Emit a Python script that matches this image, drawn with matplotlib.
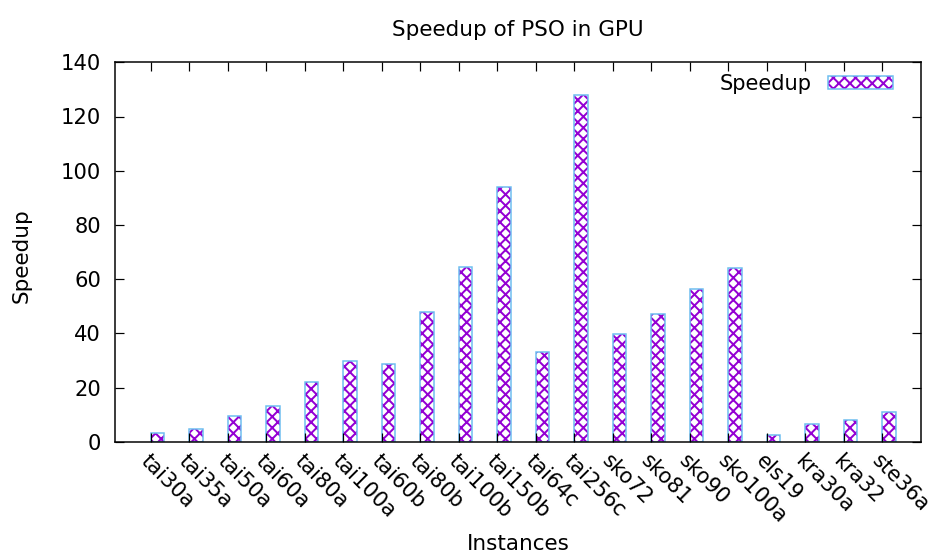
import numpy as np
import matplotlib.pyplot as plt
import matplotlib.transforms as mtransforms
from matplotlib.legend_handler import HandlerTuple

# Speedup of PSO on GPU per QAP instance
instances = ['tai30a', 'tai35a', 'tai50a', 'tai60a', 'tai80a', 'tai100a',
             'tai60b', 'tai80b', 'tai100b', 'tai150b', 'tai64c', 'tai256c',
             'sko72', 'sko81', 'sko90', 'sko100a', 'els19', 'kra30a',
             'kra32', 'ste36a']
speedup = [3.3, 4.6, 9.5, 13.1, 22.0, 29.7, 28.7, 47.7, 64.4, 93.9, 33.0,
           127.8, 39.6, 47.0, 56.2, 64.0, 2.5, 6.6, 8.0, 10.8]

DPI = 100
W, H = 937, 557


def px(v):
    """pixels -> points"""
    return v * 72 / DPI


FS = px(21)
plt.rcParams['hatch.linewidth'] = px(2.0)
plt.rcParams['font.family'] = 'DejaVu Sans'

fig = plt.figure(figsize=(W / DPI, H / DPI), dpi=DPI)
ax = fig.add_axes([115 / W, (H - 441.7) / H, 806 / W, 379.4 / H])

x = np.arange(len(instances))
offset = 0.18
width = 0.35
# hatch takes the edge colour, so the blue outline is a second pass
fill = ax.bar(x + offset, speedup, width=width, color='white',
              edgecolor='#9400d3', hatch='xxx', linewidth=0)
edge = ax.bar(x + offset, speedup, width=width, fill=False,
              edgecolor='#6cbdf0', linewidth=px(1.5))

ax.set_xlim(-0.922, 20.01)
ax.set_ylim(0, 140)
ax.set_yticks(np.arange(0, 141, 20))
ax.set_xticks(x)
ax.set_xticklabels(instances, rotation=-45, ha='left', va='top',
                   rotation_mode='anchor', fontsize=FS)
shift = mtransforms.ScaledTranslation(4 / DPI, 0, fig.dpi_scale_trans)
for lab in ax.get_xticklabels():
    lab.set_transform(lab.get_transform() + shift)
ax.tick_params(axis='y', labelsize=FS, pad=px(14))
ax.tick_params(axis='x', pad=px(9))
ax.tick_params(direction='in', length=px(9), width=px(1.2),
               top=True, right=True)
for s in ax.spines.values():
    s.set_linewidth(px(1.5))

fig.text(518 / W, 1 - 30 / H, 'Speedup of PSO in GPU', ha='center',
         va='center', fontsize=px(21.5))
fig.text(518 / W, 1 - 544 / H, 'Instances', ha='center', va='center',
         fontsize=px(21.5))
fig.text(22 / W, 1 - 256 / H, 'Speedup', ha='center', va='center',
         rotation=90, fontsize=px(21.5))

ax.legend([(fill, edge)], ['Speedup'],
          handler_map={tuple: HandlerTuple(ndivide=1, pad=0)},
          loc='center right', bbox_to_anchor=((893 - 115) / 806, (441.7 - 84) / 379.4),
          frameon=False, markerfirst=False, fontsize=FS,
          handlelength=65 / 21, handleheight=12.7 / 21, handletextpad=16 / 21,
          borderpad=0, borderaxespad=0)

fig.savefig('out.png', dpi=DPI)
